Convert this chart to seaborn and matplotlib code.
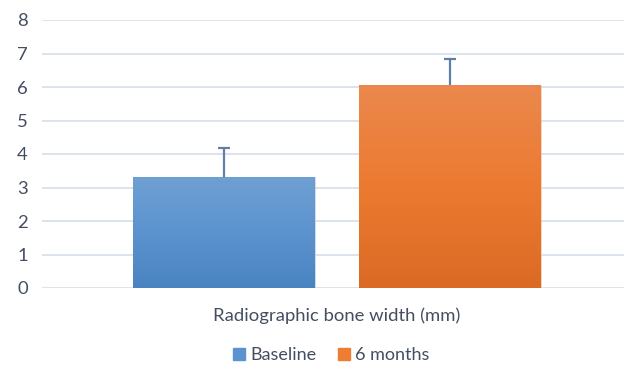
import numpy as np
import pandas as pd
import seaborn as sns
import matplotlib.pyplot as plt
from matplotlib.colors import LinearSegmentedColormap

# values
category = ["Radiographic bone width (mm)"]
groups = ["Baseline", "6 months"]
means = [3.3, 6.05]
upper_err = [0.88, 0.8]

base_colors = ["#5b93cf", "#ed7d31"]
grad_stops = [
    ["#4a84c0", "#5b93cf", "#6fa0d3"],
    ["#db6a25", "#ec7a30", "#eb884e"],
]
text_color = "#444e60"
grid_color = "#dde3ea"

df = pd.DataFrame({
    "category": category * len(groups),
    "group": groups,
    "value": means,
})

sns.set_style("white")
plt.rcParams['font.family'] = ['Lato', 'DejaVu Sans']

fig = plt.figure(figsize=(6.24, 3.65), dpi=100)
ax = fig.add_axes([42 / 624, 1 - 288 / 365, 590 / 624, 268 / 365])

sns.barplot(data=df, x="category", y="value", hue="group",
            palette=base_colors, width=0.766, gap=0.195,
            errorbar=None, legend=False, ax=ax, zorder=2)

bars = [p for p in ax.patches if p.get_height() > 0]
for bar, stops, err in zip(bars, grad_stops, upper_err):
    x0, y0 = bar.get_x(), bar.get_y()
    w, h = bar.get_width(), bar.get_height()
    cmap = LinearSegmentedColormap.from_list("g", stops)
    grad = np.linspace(0, 1, 256).reshape(-1, 1)
    im = ax.imshow(grad, cmap=cmap, origin="lower", aspect="auto",
                   extent=[x0, x0 + w, y0, y0 + h], zorder=3)
    im.set_clip_path(bar)
    bar.set_edgecolor((1, 1, 1, 0.35))
    bar.set_linewidth(0.8)
    eb = ax.errorbar(x0 + w / 2, h, yerr=[[0], [err]], fmt="none",
                     ecolor="#5f7fab", elinewidth=1.6, capsize=4.5,
                     capthick=1.6, zorder=4)
    # only the upper cap, like the Excel "plus" error bar
    eb[1][0].set_visible(False)

ax.set_xlim(-0.5, 0.5)
ax.set_ylim(0, 8)
ax.set_yticks(range(0, 9))
ax.yaxis.grid(True, color=grid_color, linewidth=1.4, zorder=0)
ax.set_axisbelow(True)
for s in ax.spines.values():
    s.set_visible(False)
ax.tick_params(axis="y", length=0, pad=14, labelsize=13.3, labelcolor=text_color)
ax.tick_params(axis="x", length=0, pad=14, labelsize=13.3, labelcolor=text_color)
for lab in ax.get_yticklabels():
    lab.set_horizontalalignment("center")
ax.set_xlabel("")
ax.set_ylabel("")

handles = [plt.Rectangle((0, 0), 1, 1, color=c) for c in base_colors]
fig.legend(handles, groups, loc="lower center", ncol=2, frameon=False,
           bbox_to_anchor=(0.531, -0.04), fontsize=13, labelcolor=text_color,
           handlelength=0.65, handleheight=0.65, handletextpad=0.3,
           columnspacing=1.2)

fig.savefig("out.png", dpi=100, facecolor="white")
